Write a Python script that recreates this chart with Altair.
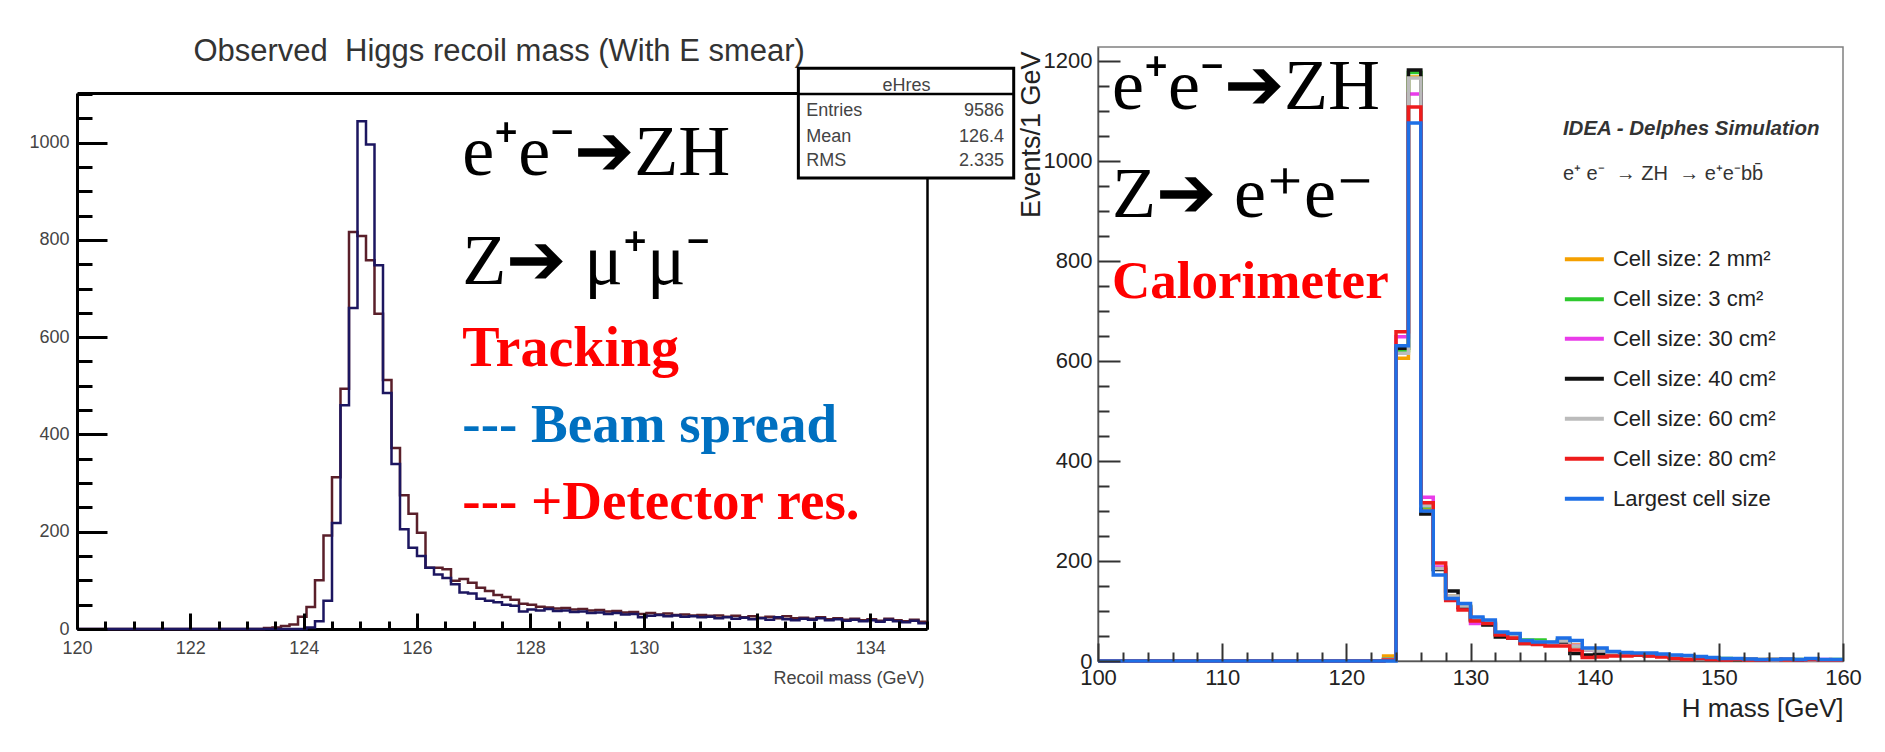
import altair as alt
import pandas as pd

SANS = "Liberation Sans"
SERIF = "Liberation Serif"

# ------------------------------------------------------------------
# Left panel: observed Higgs recoil mass (Z -> mu+ mu-), 0.15 GeV bins, 120-135 GeV
# ------------------------------------------------------------------
left_edges = [round(120 + 0.15 * i, 2) for i in range(101)]

beam_spread = [
    0, 0, 0, 0, 0, 0, 0, 0, 0, 0,
    0, 0, 0, 0, 0, 0, 0, 0, 0, 0,
    0, 0, 0, 0, 0, 0, 0, 3, 16, 58,
    218, 460, 660, 1044, 996, 748, 485, 339, 205, 167,
    150, 126, 112, 105, 92, 75, 73, 62, 58, 55,
    50, 48, 36, 40, 38, 41, 37, 38, 35, 36,
    33, 34, 31, 33, 30, 31, 24, 27, 29, 26,
    28, 25, 26, 24, 25, 22, 24, 21, 23, 20,
    22, 19, 24, 20, 18, 21, 19, 22, 18, 20,
    17, 19, 16, 18, 15, 19, 16, 14, 17, 12,
]
detector_res = [
    0, 0, 0, 0, 0, 0, 0, 0, 0, 0,
    0, 0, 0, 0, 0, 0, 0, 0, 0, 0,
    0, 0, 2, 3, 6, 9, 25, 45, 100, 192,
    312, 494, 816, 808, 758, 648, 512, 372, 275, 237,
    198, 126, 126, 123, 99, 103, 95, 85, 78, 70,
    66, 60, 52, 50, 46, 44, 42, 43, 40, 41,
    38, 39, 36, 37, 34, 35, 31, 33, 30, 32,
    29, 30, 28, 29, 27, 28, 25, 27, 24, 26,
    23, 25, 22, 26, 22, 23, 21, 24, 20, 22,
    19, 21, 18, 20, 17, 21, 18, 16, 19, 15,
]
left_x_major = [120, 122, 124, 126, 128, 130, 132, 134]
left_x_minor = [v / 2 for v in range(240, 271) if v % 4 != 0]
left_y_major = [0, 200, 400, 600, 800, 1000]
left_y_minor = [v for v in range(50, 1101, 50) if v % 200 != 0]

left_title = "Observed\u00a0 Higgs recoil mass (With E smear)"
stats_names = ["Entries", "Mean", "RMS"]
stats_values = ["9586", "126.4", "2.335"]
stats_header = "eHres"

# ------------------------------------------------------------------
# Right panel: H mass, 1 GeV bins, 100-160 GeV, several calorimeter cell sizes
# ------------------------------------------------------------------
right_edges = list(range(100, 161))
flat_100_to_123 = [0, 0, 0, 0, 0, 0, 0, 0, 0, 0, 0, 0, 0, 0, 0, 0, 0, 0, 0, 0, 0, 0, 0]

cell_labels = ["Cell size: 2 mm²", "Cell size: 3 cm²", "Cell size: 30 cm²", "Cell size: 40 cm²",
               "Cell size: 60 cm²", "Cell size: 80 cm²", "Largest cell size"]
cell_colors = ["#F5A000", "#2EC92E", "#E93BE9", "#111111", "#BBBBBB", "#EE1C1C", "#1E6FE6"]

cell_2mm = flat_100_to_123 + [10, 605, 1167, 304, 185, 130, 110, 85, 78, 55, 50, 40, 40, 36, 40, 32, 22, 20, 16,
                              14, 13, 12, 10, 9, 8, 7, 6, 4, 4, 3, 3, 2, 3, 2, 3, 2, 2]
cell_3cm = flat_100_to_123 + [4, 620, 1176, 308, 186, 128, 108, 84, 76, 54, 48, 42, 42, 37, 42, 30, 24, 21, 15,
                              15, 12, 12, 11, 8, 8, 6, 5, 5, 3, 3, 2, 3, 2, 3, 2, 2, 3]
cell_30cm = flat_100_to_123 + [3, 648, 1133, 327, 188, 126, 105, 75, 74, 55, 47, 39, 36, 35, 39, 31, 22, 19, 16,
                               13, 13, 11, 10, 8, 7, 6, 5, 4, 4, 3, 2, 2, 3, 2, 2, 3, 2]
cell_40cm = flat_100_to_123 + [2, 625, 1181, 294, 183, 140, 108, 82, 72, 48, 46, 35, 34, 36, 38, 15, 12, 14, 16,
                               14, 12, 11, 10, 8, 6, 6, 5, 4, 3, 3, 2, 2, 3, 2, 2, 2, 2]
cell_60cm = flat_100_to_123 + [3, 615, 1165, 310, 185, 130, 110, 86, 77, 56, 50, 40, 38, 36, 40, 30, 22, 20, 16,
                               14, 13, 12, 10, 9, 7, 6, 5, 4, 4, 3, 3, 2, 2, 3, 2, 2, 2]
cell_80cm = flat_100_to_123 + [2, 658, 1107, 316, 196, 121, 102, 80, 75, 52, 46, 35, 33, 30, 30, 22, 7, 8, 10,
                               10, 12, 10, 8, 5, 3, 5, 3, 2, 3, 2, 2, 3, 2, 2, 3, 2, 2]
cell_largest = flat_100_to_123 + [0, 630, 1075, 300, 172, 125, 115, 88, 82, 58, 55, 41, 38, 38, 46, 41, 26, 26, 19,
                                  17, 16, 16, 14, 12, 11, 9, 7, 5, 5, 4, 3, 3, 4, 3, 5, 3, 3]
cell_series = [cell_2mm, cell_3cm, cell_30cm, cell_40cm, cell_60cm, cell_80cm, cell_largest]

right_x_major = [100, 110, 120, 130, 140, 150, 160]
right_x_minor = [v for v in range(102, 160, 2) if v % 10 != 0]
right_y_major = [0, 200, 400, 600, 800, 1000, 1200]
right_y_minor = [v for v in range(50, 1226, 50) if v % 200 != 0]

# ------------------------------------------------------------------
# annotations (in the data coordinates of each panel)
# ------------------------------------------------------------------
left_ann_title = pd.DataFrame({"x": [127.45], "y": [1186], "t": [left_title]})
left_ann_black = pd.DataFrame({"x": [126.8, 126.8], "y": [933, 709], "t": ["e⁺e⁻➔ZH", "Z➔ μ⁺μ⁻"]})
left_ann_red = pd.DataFrame({"x": [126.8, 126.8], "y": [541, 226], "t": ["Tracking", "--- +Detector res."]})
left_ann_blue = pd.DataFrame({"x": [126.8], "y": [384], "t": ["--- Beam spread"]})

stats_box = pd.DataFrame({"x": [132.73], "x2": [136.53], "y": [927], "y2": [1153]})
stats_sep = pd.DataFrame({"x": [132.73], "x2": [136.53], "y": [1100]})
stats_head = pd.DataFrame({"x": [134.64], "y": [1116], "t": [stats_header]})
stats_left = pd.DataFrame({"x": [132.87] * 3, "y": [1065, 1011, 962], "t": stats_names})
stats_right = pd.DataFrame({"x": [136.36] * 3, "y": [1065, 1011, 962], "t": stats_values})

right_ann_black = pd.DataFrame({"x": [101.13, 101.13], "y": [1104, 888], "t": ["e⁺e⁻➔ZH", "Z➔ e⁺e⁻"]})
right_ann_red = pd.DataFrame({"x": [101.13], "y": [725], "t": ["Calorimeter"]})
right_ann_idea = pd.DataFrame({"x": [137.44], "y": [1063], "t": ["IDEA - Delphes Simulation"]})
right_ann_proc = pd.DataFrame({"x": [137.44], "y": [974],
                               "t": ["e⁺ e⁻ \u00a0\u2192 ZH \u00a0\u2192 e⁺e⁻bb\u0304"]})
legend_rows = pd.DataFrame({"series": cell_labels, "y": [803, 723, 644, 564, 484, 404, 324],
                            "x": [137.6] * 7, "x2": [140.74] * 7, "xt": [141.47] * 7})

TICK_L = "black"
TICK_R = "#333333"


def step_frame(edges, values, name):
    ys = list(values) + [values[-1]]
    return pd.DataFrame({"x": edges, "y": ys, "series": name})


def tick_axis(orient, values, offset, size, color, width):
    """Tick-only axis moved onto the opposite edge so that its ticks point into the plot."""
    return alt.Axis(orient=orient, values=values, offset=offset, tickSize=size, tickColor=color,
                    tickWidth=width, ticks=True, tickOpacity=1, labels=False, domain=False, grid=False,
                    title=None, zindex=1)


def frame_axis(orient, color, width, offset=0):
    return alt.Axis(orient=orient, offset=offset, domain=True, domainColor=color, domainWidth=width,
                    ticks=False, labels=False, grid=False, title=None)


# ---------------------------- left panel ----------------------------
L_W, L_H = 850, 582
LX = alt.Scale(domain=[120, 135], nice=False, zero=False)
LY = alt.Scale(domain=[0, 1102], range=[582, 46], nice=False, zero=False)

left_x_axis = alt.Axis(orient="bottom", values=left_x_major, format="d", grid=False, ticks=False,
                       domainColor="black", domainWidth=3, labelPadding=10, labelFont=SANS, labelFontSize=18,
                       labelColor="#444", labelFlush=False, labelOverlap=False,
                       title="Recoil mass (GeV)", titleFont=SANS, titleFontSize=18,
                       titleFontWeight="normal", titleColor="#444", titleX=847, titleY=49,
                       titleAlign="right", titleBaseline="middle")
left_y_axis = alt.Axis(orient="left", values=left_y_major, format="d", grid=False, ticks=False,
                       domainColor="black", domainWidth=3, labelPadding=8, labelFont=SANS, labelFontSize=18,
                       labelColor="#444", labelFlush=False, labelOverlap=False, title=None)

det_df = step_frame(left_edges, detector_res, "det")
beam_df = step_frame(left_edges, beam_spread, "beam")

left_det = alt.Chart(det_df).mark_line(interpolate="step-after", strokeWidth=2.5, color="#5a1f2a").encode(
    x=alt.X("x:Q", scale=LX, axis=left_x_axis),
    y=alt.Y("y:Q", scale=LY, axis=left_y_axis),
)
left_beam = alt.Chart(beam_df).mark_line(interpolate="step-after", strokeWidth=2.5, color="#1c1660").encode(
    x=alt.X("x:Q", scale=LX, axis=tick_axis("top", left_x_major, -L_H, 16, TICK_L, 3)),
    y=alt.Y("y:Q", scale=LY, axis=tick_axis("right", left_y_major, -L_W, 30, TICK_L, 3)),
)


def text_layer(df, sx, sy, xaxis=None, yaxis=None, **kw):
    return alt.Chart(df).mark_text(**kw).encode(
        x=alt.X("x:Q", scale=sx, axis=xaxis),
        y=alt.Y("y:Q", scale=sy, axis=yaxis),
        text="t:N",
    )


l_title = text_layer(left_ann_title, LX, LY,
                     xaxis=frame_axis("top", "black", 3, offset=-46),
                     yaxis=frame_axis("right", "black", 2.5),
                     align="center", baseline="middle", font=SANS, fontSize=31, color="#333")
l_t1 = text_layer(left_ann_black, LX, LY,
                  xaxis=tick_axis("top", left_x_minor, -L_H, 8, TICK_L, 3),
                  yaxis=tick_axis("right", left_y_minor, -L_W, 15, TICK_L, 3),
                  align="left", baseline="alphabetic", font=SERIF, fontSize=72, color="black")
l_t2a = text_layer(left_ann_red.iloc[[0]], LX, LY, align="left", baseline="alphabetic", font=SERIF,
                   fontSize=56, fontWeight="bold", color="#FF0000")
l_t2b = text_layer(left_ann_red.iloc[[1]], LX, LY, align="left", baseline="alphabetic", font=SERIF,
                   fontSize=55, fontWeight="bold", color="#FF0000")
l_t3 = text_layer(left_ann_blue, LX, LY, align="left", baseline="alphabetic", font=SERIF, fontSize=55,
                  fontWeight="bold", color="#0070C0")

s_box = alt.Chart(stats_box).mark_rect(fill="white", stroke="black", strokeWidth=3).encode(
    x=alt.X("x:Q", scale=LX, axis=None), x2="x2:Q",
    y=alt.Y("y:Q", scale=LY, axis=None), y2="y2:Q")
s_sep = alt.Chart(stats_sep).mark_rule(color="black", strokeWidth=2.5).encode(
    x=alt.X("x:Q", scale=LX, axis=None), x2="x2:Q",
    y=alt.Y("y:Q", scale=LY, axis=None))


def stats_text(df, align):
    return text_layer(df, LX, LY, align=align, baseline="middle", font=SANS, fontSize=18, color="#444")


left_chart = alt.layer(
    left_det, left_beam, l_title, l_t1, l_t2a, l_t2b, l_t3, s_box, s_sep,
    stats_text(stats_head, "center"), stats_text(stats_left, "left"), stats_text(stats_right, "right"),
).resolve_axis(x="independent", y="independent").properties(
    width=L_W, height=L_H, view=alt.ViewBackground(strokeOpacity=0),
)

# ---------------------------- right panel ----------------------------
R_W, R_H = 745, 614
RX = alt.Scale(domain=[100, 160], nice=False, zero=False)
RY = alt.Scale(domain=[0, 1227], nice=False, zero=False)
RC = alt.Scale(domain=cell_labels, range=cell_colors)

right_x_axis = alt.Axis(orient="bottom", values=right_x_major, format="d", grid=False, ticks=False,
                        domainColor="#555", domainWidth=1.5, labelPadding=6, labelFont=SANS, labelFontSize=22,
                        labelColor="#222", labelFlush=False, labelOverlap=False,
                        title="H mass [GeV]", titleFont=SANS, titleFontSize=26, titleFontWeight="normal",
                        titleColor="#222", titleX=745, titleY=47, titleAlign="right", titleBaseline="middle")
right_y_axis = alt.Axis(orient="left", values=right_y_major, format="d", grid=False, ticks=False,
                        domainColor="#555", domainWidth=1.5, labelPadding=6, labelFont=SANS, labelFontSize=22,
                        labelColor="#222", labelFlush=False, labelOverlap=False,
                        title="Events/1 GeV", titleFont=SANS, titleFontSize=27, titleFontWeight="normal",
                        titleColor="#222", titleX=-67, titleY=4, titleAngle=270, titleAlign="right",
                        titleBaseline="middle")

right_df = pd.concat([step_frame(right_edges, vals, lab) for lab, vals in zip(cell_labels, cell_series)],
                     ignore_index=True)

right_axes = {
    0: (right_x_axis, right_y_axis),
    1: (tick_axis("top", right_x_major, -R_H, 18, TICK_R, 2),
        tick_axis("right", right_y_major, -R_W, 22, TICK_R, 2)),
    2: (tick_axis("top", right_x_minor, -R_H, 9, TICK_R, 2),
        tick_axis("right", right_y_minor, -R_W, 11, TICK_R, 2)),
}

right_layers = []
for i, lab in enumerate(cell_labels):
    xa, ya = right_axes.get(i, (None, None))
    right_layers.append(
        alt.Chart(right_df).transform_filter(alt.datum.series == lab)
        .mark_line(interpolate="step-after", strokeWidth=3.5)
        .encode(
            x=alt.X("x:Q", scale=RX, axis=xa),
            y=alt.Y("y:Q", scale=RY, axis=ya),
            color=alt.Color("series:N", scale=RC, legend=None),
        )
    )

leg_lines = alt.Chart(legend_rows).mark_rule(strokeWidth=4).encode(
    x=alt.X("x:Q", scale=RX, axis=None), x2="x2:Q",
    y=alt.Y("y:Q", scale=RY, axis=None),
    color=alt.Color("series:N", scale=RC, legend=None),
)
leg_text = alt.Chart(legend_rows).mark_text(align="left", baseline="middle", font=SANS, fontSize=22,
                                            color="#222").encode(
    x=alt.X("xt:Q", scale=RX, axis=None),
    y=alt.Y("y:Q", scale=RY, axis=None),
    text="series:N",
)

r_t1 = text_layer(right_ann_black, RX, RY, align="left", baseline="alphabetic", font=SERIF, fontSize=72,
                  color="black")
r_t2 = text_layer(right_ann_red, RX, RY, align="left", baseline="alphabetic", font=SERIF, fontSize=53,
                  fontWeight="bold", color="#FF0000")
r_t3 = text_layer(right_ann_idea, RX, RY, align="left", baseline="middle", font=SANS, fontSize=20.5,
                  fontWeight="bold", fontStyle="italic", color="#333")
r_t4 = text_layer(right_ann_proc, RX, RY, align="left", baseline="middle", font=SANS, fontSize=20,
                  color="#333")

right_chart = alt.layer(*right_layers, leg_lines, leg_text, r_t1, r_t2, r_t3, r_t4).resolve_axis(
    x="independent", y="independent"
).properties(width=R_W, height=R_H, view=alt.ViewBackground(stroke="#808080", strokeWidth=1.5))

chart = alt.hconcat(left_chart, right_chart, spacing=171, bounds="flush").properties(
    padding={"left": 20, "top": 28, "right": 10, "bottom": 10}, background="white"
).configure_axis(grid=False)

chart.save("out.html", embed_options={"renderer": "svg", "actions": False})
